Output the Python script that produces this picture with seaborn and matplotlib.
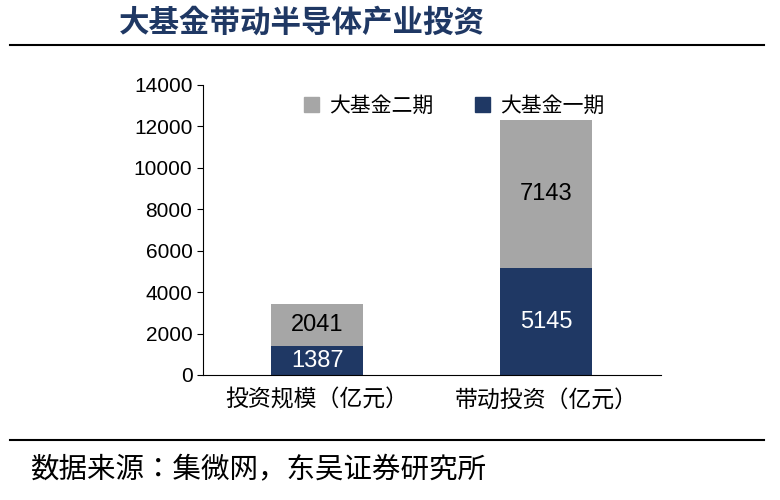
import matplotlib.pyplot as plt
import matplotlib as mpl
from matplotlib import font_manager
import seaborn as sns
import pandas as pd
from matplotlib.patches import Patch
from matplotlib.lines import Line2D

# pick CJK font files directly (regular and bold)
cjk = sorted(f for f in font_manager.findSystemFonts() if 'CJK' in f)
def pick(words):
    for f in cjk:
        if all(w in f for w in words):
            return f
    return None
reg_file = pick(['Regular']) or pick([]) 
bold_file = pick(['Bold']) or reg_file
zh = font_manager.FontProperties(fname=reg_file)
zh_bold = font_manager.FontProperties(fname=bold_file)
num = 'Liberation Sans'

categories = ['投资规模（亿元）', '带动投资（亿元）']
phase1 = [1387, 5145]
phase2 = [2041, 7143]
yticks = [0, 2000, 4000, 6000, 8000, 10000, 12000, 14000]

navy = '#1F3864'
grey = '#A6A6A6'

df = pd.DataFrame({'cat': categories, 'p1': phase1, 'p2': phase2})
df['total'] = df['p1'] + df['p2']

fig = plt.figure(figsize=(7.8, 5), dpi=100)
ax = fig.add_axes([0.26, 0.25, 0.587, 0.58])

sns.barplot(data=df, x='cat', y='total', color=grey, width=0.4, saturation=1, ax=ax)
sns.barplot(data=df, x='cat', y='p1', color=navy, width=0.4, saturation=1, ax=ax)

for i, row in df.iterrows():
    ax.text(i, row['p1'] / 2, f"{row['p1']}", ha='center', va='center', color='white',
            fontsize=17, family=num)
    ax.text(i, row['p1'] + row['p2'] / 2, f"{row['p2']}", ha='center', va='center', color='black',
            fontsize=17, family=num)

ax.set_ylim(0, 14000)
ax.set_yticks(yticks)
ax.set_yticklabels([str(t) for t in yticks], fontsize=15, family=num)
ax.set_xticks(range(len(categories)))
ax.set_xticklabels(categories, fontproperties=zh, fontsize=16.5)
ax.tick_params(axis='x', length=0, pad=10)
ax.tick_params(axis='y', length=4)
ax.set_xlabel('')
ax.set_ylabel('')
ax.set_xlim(-0.5, 1.5)
for s in ['top', 'right']:
    ax.spines[s].set_visible(False)

leg_font = font_manager.FontProperties(fname=reg_file, size=15)
ax.legend(handles=[Patch(color=grey, label='大基金二期'), Patch(color=navy, label='大基金一期')],
          loc='upper center', ncol=2, frameon=False, prop=leg_font,
          handlelength=0.7, handleheight=0.7, handletextpad=0.5, columnspacing=2.0,
          bbox_to_anchor=(0.55, 1.03))

fig.text(0.152, 0.955, '大基金带动半导体产业投资', fontproperties=zh_bold, fontsize=22,
         fontweight='bold', color=navy, va='center')
fig.add_artist(Line2D([0.013, 0.98], [0.91, 0.91], color='black', lw=1.5))
fig.add_artist(Line2D([0.013, 0.98], [0.12, 0.12], color='black', lw=1.5))
fig.text(0.038, 0.06, '数据来源：集微网，东吴证券研究所', fontproperties=zh, fontsize=20.5, va='center')

fig.savefig('out.png', dpi=100)
